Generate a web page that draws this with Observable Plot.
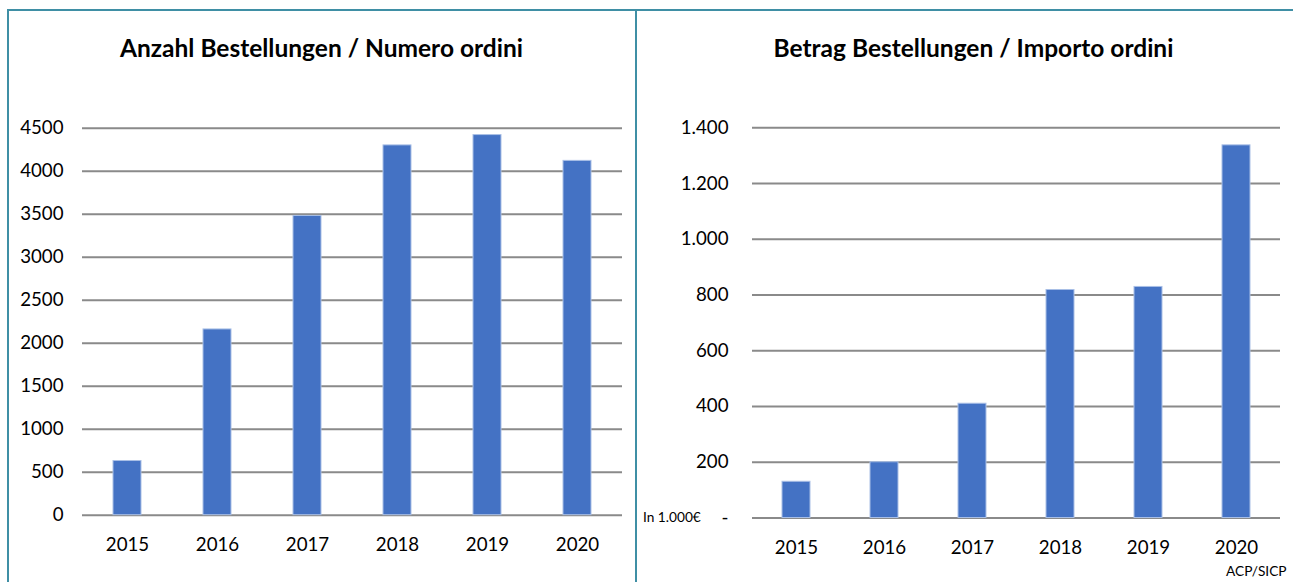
<!DOCTYPE html>
<html>
<head>
<meta charset="utf-8">
<script src="https://cdn.jsdelivr.net/npm/d3@7"></script>
<script src="https://cdn.jsdelivr.net/npm/@observablehq/plot@0.6"></script>
<style>
  html, body { margin: 0; padding: 0; background: #fff; }
  #wrap { position: relative; width: 1293px; height: 582px; overflow: hidden; font-family: Lato, "Open Sans", sans-serif; }
  .panel { position: absolute; box-sizing: border-box; }
  .title { position: absolute; font-weight: bold; font-size: 24.5px; color: #000; text-align: center; white-space: nowrap; }
  .small { position: absolute; font-size: 13.7px; color: #000; white-space: nowrap; }
  .chart { position: absolute; top: 0; }
</style>
</head>
<body>
<div id="wrap">
  <div class="panel" style="left:7px;top:9px;width:630px;height:600px;border-left:2px solid #3f8fa5;border-top:2px solid #3f8fa5;border-right:2px solid #3f8fa5;"></div>
  <div class="panel" style="left:636px;top:9px;width:657px;height:2px;background:#3f8fa5;"></div>
  <div class="title" style="left:7px;width:629px;top:33px;">Anzahl Bestellungen / Numero ordini</div>
  <div class="title" style="left:645px;width:657px;top:33px;">Betrag Bestellungen / Importo ordini</div>
  <div id="left" class="chart" style="left:0px;"></div>
  <div id="right" class="chart" style="left:636px;"></div>
  <div class="small" style="left:643px;top:508px;">In 1.000€</div>
  <div class="small" style="left:1226px;top:562px;">ACP/SICP</div>
</div>
<script>
// ---- data ----
const years = ["2015", "2016", "2017", "2018", "2019", "2020"];
const orderCounts = [630, 2160, 3480, 4300, 4420, 4120];
const orderAmounts = [130, 200, 410, 818, 829, 1337];
const countTicks = [0, 500, 1000, 1500, 2000, 2500, 3000, 3500, 4000, 4500];
const amountTicks = [0, 200, 400, 600, 800, 1000, 1200, 1400];
const amountTickLabels = ["-", "200", "400", "600", "800", "1.000", "1.200", "1.400"];

const barColor = "#4472c4";
const gridColor = "#8a8a8a";

function makeChart({values, ticks, labels, width, height, marginLeft, marginRight, marginTop, marginBottom, yMax, tickPad, xPad, padInner}) {
  const data = years.map((y, i) => ({year: y, value: values[i]}));
  return Plot.plot({
    width, height, marginLeft, marginRight, marginTop, marginBottom,
    style: {fontFamily: "Lato, 'Open Sans', sans-serif", fontSize: "18.7px", color: "#000", background: "transparent", overflow: "visible"},
    x: {domain: years, paddingInner: padInner, paddingOuter: padInner / 2, label: null, tickSize: 0, tickPadding: xPad},
    y: {domain: [0, yMax], label: null, ticks: ticks, tickSize: 0, tickPadding: tickPad,
        tickFormat: labels ? (d) => labels[ticks.indexOf(d)] : (d) => String(d)},
    marks: [
      Plot.ruleY(ticks, {stroke: gridColor, strokeWidth: 2}),
      Plot.barY(data, {x: "year", y: "value", fill: barColor, stroke: "#a9bfe6", strokeWidth: 1})
    ]
  });
}

document.getElementById("left").append(makeChart({
  values: orderCounts, ticks: countTicks, labels: null,
  width: 636, height: 582, marginLeft: 82, marginRight: 14, marginTop: 127.7, marginBottom: 67.3,
  yMax: 4500, tickPad: 19, xPad: 23, padInner: 0.69
}));

document.getElementById("right").append(makeChart({
  values: orderAmounts, ticks: amountTicks, labels: amountTickLabels,
  width: 657, height: 582, marginLeft: 116, marginRight: 13, marginTop: 127.3, marginBottom: 64.5,
  yMax: 1400, tickPad: 24, xPad: 23, padInner: 0.685
}));
</script>
</body>
</html>
